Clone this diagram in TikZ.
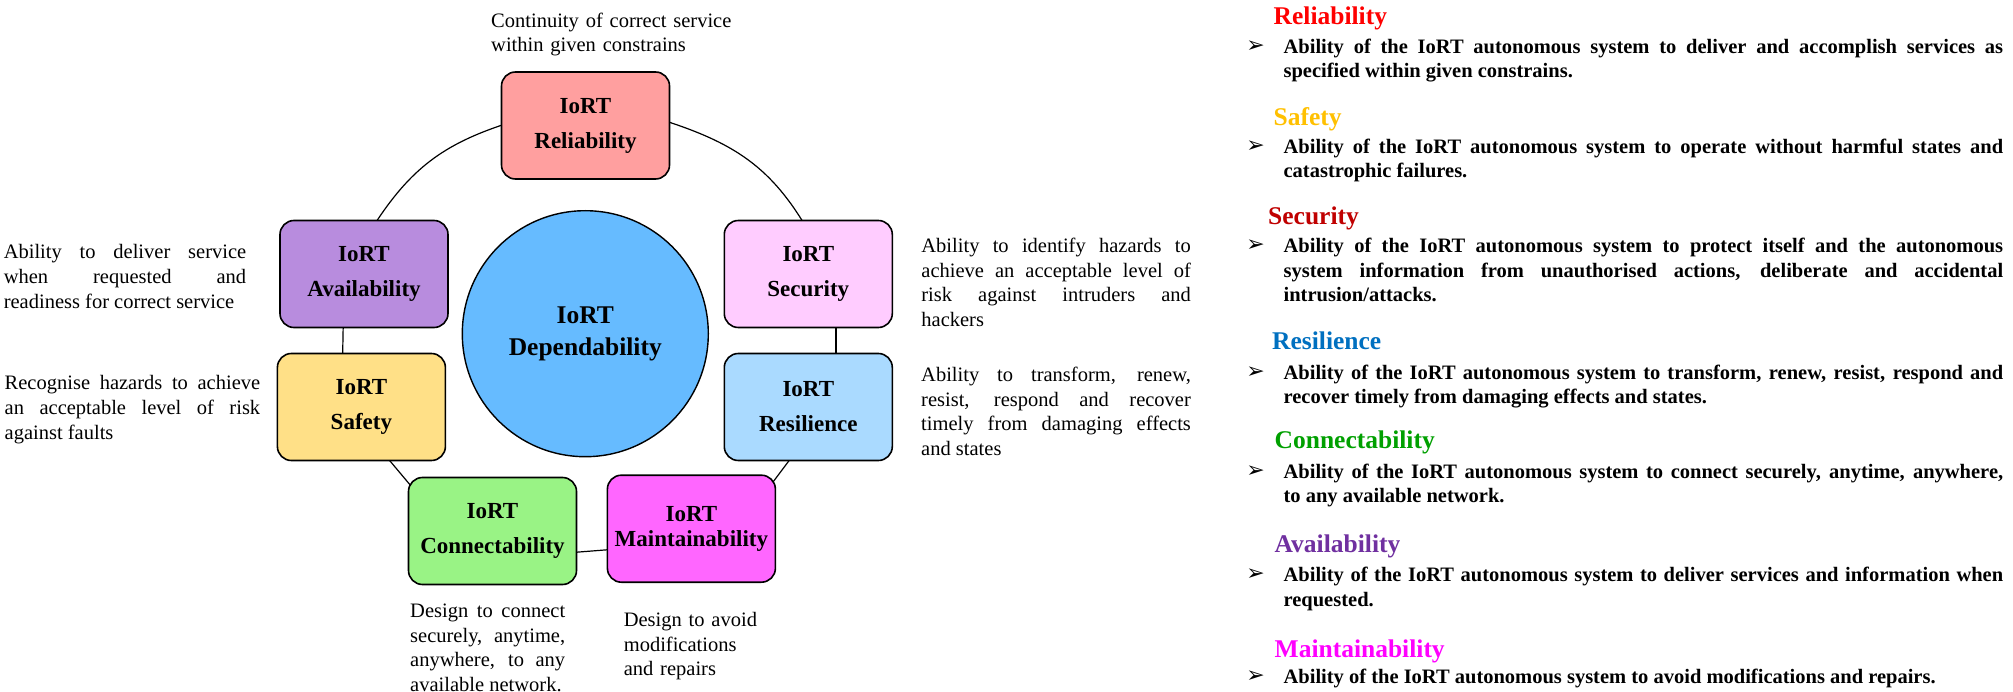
\documentclass[tikz,border=0pt]{standalone}
\usepackage{fontspec}
\setmainfont{Liberation Serif}
\newfontfamily\dejavu{DejaVu Sans}
\usetikzlibrary{backgrounds}
\definecolor{cRel}{HTML}{FF9F9F}
\definecolor{cAva}{HTML}{B88CDE}
\definecolor{cSec}{HTML}{FFCCFF}
\definecolor{cSaf}{HTML}{FFE087}
\definecolor{cRes}{HTML}{AADAFF}
\definecolor{cCon}{HTML}{99F385}
\definecolor{cMai}{HTML}{FF66FF}
\definecolor{cDep}{HTML}{66BBFF}
\definecolor{hRel}{HTML}{FF0000}
\definecolor{hSaf}{HTML}{FFC000}
\definecolor{hSec}{HTML}{C00000}
\definecolor{hRes}{HTML}{0070C0}
\definecolor{hCon}{HTML}{00A000}
\definecolor{hAva}{HTML}{7030A0}
\definecolor{hMai}{HTML}{FF00FF}
\hyphenpenalty=10000
\exhyphenpenalty=10000
\tolerance=9999
\tikzset{
  box/.style={draw=black, line width=1.6pt, rounded corners=14pt, minimum width=168pt,
    minimum height=107pt, inner sep=0pt, align=center, font=\bfseries\fontsize{23}{35}\selectfont},
  ring/.style={line width=1.2pt, shorten <=-6pt, shorten >=-6pt},
  desc/.style={anchor=base west, inner sep=0pt, align=justify, font=\fontsize{20.5}{24.6}\selectfont},
  head/.style={anchor=base west, inner sep=0pt, font=\bfseries\fontsize{25.5}{30}\selectfont},
  body/.style={anchor=base west, inner sep=0pt, text width=719.6pt, align=justify,
    font=\bfseries\fontsize{20.5}{24.5}\selectfont},
  bullet/.style={inner sep=0pt, font=\dejavu\fontsize{22}{22}\selectfont}
}
\begin{document}
\begin{tikzpicture}[x=1pt,y=1pt]
\useasboundingbox (0,0) rectangle (2013,-692);
% ---- ring boxes
\node[box, fill=cRel] (rel) at (585.5,-125.5) {IoRT\\Reliability};
\node[box, fill=cAva] (ava) at (364,-274) {IoRT\\Availability};
\node[box, fill=cSec] (sec) at (808.3,-274) {IoRT\\Security};
\node[box, fill=cSaf] (saf) at (361.4,-407) {IoRT\\Safety};
\node[box, fill=cRes] (res) at (808.3,-407) {IoRT\\Resilience};
\node[box, fill=cCon] (con) at (492.5,-531) {IoRT\\Connectability};
\node[box, fill=cMai, font=\bfseries\fontsize{23}{25}\selectfont] (mai) at (691.4,-528.7) {IoRT\\Maintainability};
\node[circle, draw=black, line width=1.4pt, fill=cDep, minimum size=246pt, inner sep=0pt, align=center,
  font=\bfseries\fontsize{25.5}{32}\selectfont] (dep) at (585.3,-333.7) {IoRT\\Dependability};
% ---- connectors (behind the boxes)
\begin{pgfonlayer}{background}
\fill[white] (0,0) rectangle (2013,-692);
\draw[ring] (rel.180) to[out=198, in=57] (ava.76);
\draw[ring] (rel.2) to[out=-18, in=121] (sec.97);
\draw[ring] (sec.-63) -- (res.63);
\draw[ring] (res.250) -- (mai.31);
\draw[ring] (mai.194.5) -- (con.-14);
\draw[ring] (con.150) -- (saf.-62);
\draw[ring] (saf.109) -- (ava.-111);
\end{pgfonlayer}
% ---- descriptions around the ring
\node[desc, text width=260pt, align=left] (tRel) at (491,-27.4) {Continuity of correct service\\within given constrains};
\node[desc, text width=242.4pt] (tAva) at (3.6,-259) {Ability to deliver service\linebreak when requested and\linebreak readiness for correct service};
\node[desc, text width=255.5pt] (tSaf) at (4.5,-390) {Recognise hazards to achieve\linebreak an acceptable level of risk\linebreak against faults};
\node[desc, text width=269.5pt] (tSec) at (921.2,-252.7) {Ability to identify hazards to\linebreak achieve an acceptable level of\linebreak risk against intruders and\linebreak hackers};
\node[desc, text width=269.7pt] (tRes) at (921,-381.7) {Ability to transform, renew,\linebreak resist, respond and recover\linebreak timely from damaging effects\linebreak and states};
\node[desc, text width=155pt] (tCon) at (410,-617.4) {Design to connect\linebreak securely, anytime,\linebreak anywhere, to any\linebreak available network.};
\node[desc, text width=160pt, align=left] (tMai) at (623.6,-626.7) {Design to avoid\\modifications\\and repairs};
% ---- right panel
\node[head, text=hRel] (hdRel) at (1273.5,-24.5) {Reliability};
\node[bullet] (bRel) at (1255.5,-46.7) {➢};
\node[body] (pRel) at (1283.4,-53.4) {Ability of the IoRT autonomous system to deliver and accomplish services as\linebreak specified within given constrains.};
\node[head, text=hSaf] (hdSaf) at (1273.5,-126) {Safety};
\node[bullet] (bSaf) at (1255.5,-146.7) {➢};
\node[body] (pSaf) at (1283.4,-153.4) {Ability of the IoRT autonomous system to operate without harmful states and\linebreak catastrophic failures.};
\node[head, text=hSec] (hdSec) at (1268,-224.5) {Security};
\node[bullet] (bSec) at (1255.5,-246) {➢};
\node[body] (pSec) at (1283.4,-252.7) {Ability of the IoRT autonomous system to protect itself and the autonomous\linebreak system information from unauthorised actions, deliberate and accidental\linebreak intrusion/attacks.};
\node[head, text=hRes] (hdRes) at (1272,-350) {Resilience};
\node[bullet] (bRes) at (1255.5,-372.7) {➢};
\node[body] (pRes) at (1283.4,-379.4) {Ability of the IoRT autonomous system to transform, renew, resist, respond and\linebreak recover timely from damaging effects and states.};
\node[head, text=hCon] (hdCon) at (1274.5,-448) {Connectability};
\node[bullet] (bCon) at (1255.5,-471.7) {➢};
\node[body] (pCon) at (1283.4,-478.4) {Ability of the IoRT autonomous system to connect securely, anytime, anywhere,\linebreak to any available network.};
\node[head, text=hAva] (hdAva) at (1274.5,-552.5) {Availability};
\node[bullet] (bAva) at (1255.5,-575) {➢};
\node[body] (pAva) at (1283.4,-581.7) {Ability of the IoRT autonomous system to deliver services and information when\linebreak requested.};
\node[head, text=hMai] (hdMai) at (1274.5,-657) {Maintainability};
\node[bullet] (bMai) at (1255.5,-676.7) {➢};
\node[body] (pMai) at (1283.4,-683.4) {Ability of the IoRT autonomous system to avoid modifications and repairs.};
\end{tikzpicture}
\end{document}
